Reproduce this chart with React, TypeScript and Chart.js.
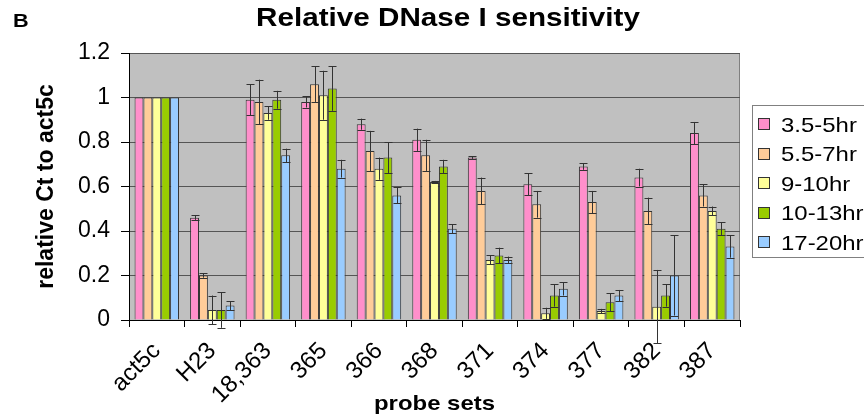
import React, { useEffect, useRef } from "react";
import { Chart, registerables } from "chart.js";

Chart.register(...registerables);

const categories = ["act5c", "H23", "18,363", "365", "366", "368", "371", "374", "377", "382", "387"];
const seriesLabels = ["3.5-5hr", "5.5-7hr", "9-10hr", "10-13hr", "17-20hr"];
const seriesColors = ["#FF8FCB", "#FFCC99", "#FFFF99", "#99CC00", "#99CCFF"];

const v35 = [1.0, 0.46, 0.99, 0.98, 0.88, 0.81, 0.73, 0.61, 0.69, 0.64, 0.84];
const v55 = [1.0, 0.2, 0.98, 1.06, 0.76, 0.74, 0.58, 0.52, 0.53, 0.49, 0.56];
const v910 = [1.0, 0.045, 0.93, 1.01, 0.68, 0.62, 0.27, 0.03, 0.04, 0.06, 0.49];
const v1013 = [1.0, 0.045, 0.99, 1.04, 0.73, 0.69, 0.29, 0.11, 0.08, 0.11, 0.41];
const v1720 = [1.0, 0.065, 0.74, 0.68, 0.56, 0.41, 0.27, 0.14, 0.11, 0.2, 0.33];

const e35 = [0, 0.01, 0.07, 0.025, 0.025, 0.05, 0.006, 0.05, 0.015, 0.04, 0.05];
const e55 = [0, 0.01, 0.1, 0.08, 0.09, 0.07, 0.06, 0.06, 0.05, 0.06, 0.05];
const e910 = [0, 0.065, 0.03, 0.11, 0.05, 0.005, 0.02, 0.025, 0.01, 0.165, 0.02];
const e1013 = [0, 0.08, 0.04, 0.1, 0.07, 0.03, 0.035, 0.05, 0.04, 0.05, 0.03];
const e1720 = [0, 0.02, 0.03, 0.04, 0.036, 0.02, 0.015, 0.03, 0.025, 0.18, 0.05];

const seriesValues = [v35, v55, v910, v1013, v1720];
const seriesErrors = [e35, e55, e910, e1013, e1720];

const titleText = "Relative DNase I sensitivity";
const panelLetter = "B";
const yTitle = "relative Ct to act5c";
const xTitle = "probe sets";

const FONT = "'Liberation Sans', Arial, sans-serif";

function stretchText(
  ctx: CanvasRenderingContext2D,
  text: string,
  x: number,
  y: number,
  font: string,
  sx: number,
  align: CanvasTextAlign
) {
  ctx.save();
  ctx.font = font;
  ctx.textAlign = align;
  ctx.textBaseline = "alphabetic";
  ctx.fillStyle = "#000";
  ctx.translate(x, y);
  ctx.scale(sx, 1);
  ctx.fillText(text, 0, 0);
  ctx.restore();
}

const decorPlugin = {
  id: "decor",
  beforeDraw(chart: any) {
    const { ctx, chartArea: a } = chart;
    ctx.save();
    ctx.fillStyle = "#fff";
    ctx.fillRect(0, 0, chart.width, chart.height);
    ctx.fillStyle = "#C0C0C0";
    ctx.fillRect(a.left, a.top, a.right - a.left, a.bottom - a.top);
    ctx.strokeStyle = "#808080";
    ctx.lineWidth = 1;
    ctx.strokeRect(a.left + 0.5, a.top + 0.5, a.right - a.left - 1, a.bottom - a.top);
    ctx.restore();
  },
  afterDatasetsDraw(chart: any) {
    const { ctx } = chart;
    const yScale = chart.scales.y;
    ctx.save();
    ctx.strokeStyle = "#333";
    ctx.lineWidth = 1;
    chart.data.datasets.forEach((ds: any, di: number) => {
      const meta = chart.getDatasetMeta(di);
      const errs = seriesErrors[di];
      meta.data.forEach((bar: any, i: number) => {
        const e = errs[i];
        if (!e) return;
        const v = ds.data[i];
        const x = Math.round(bar.x) + 0.5;
        const yt = yScale.getPixelForValue(v + e);
        const yb = yScale.getPixelForValue(v - e);
        ctx.beginPath();
        ctx.moveTo(x, yt);
        ctx.lineTo(x, yb);
        ctx.moveTo(x - 4, Math.round(yt) + 0.5);
        ctx.lineTo(x + 4, Math.round(yt) + 0.5);
        ctx.moveTo(x - 4, Math.round(yb) + 0.5);
        ctx.lineTo(x + 4, Math.round(yb) + 0.5);
        ctx.stroke();
      });
    });
    ctx.restore();
  },
  afterDraw(chart: any) {
    const { ctx, chartArea: a } = chart;
    stretchText(ctx, panelLetter, 13, 27, `bold 19px ${FONT}`, 1.14, "left");
    stretchText(ctx, titleText, 448, 26, `bold 26px ${FONT}`, 1.14, "center");
    stretchText(ctx, xTitle, (a.left + a.right) / 2, 410, `bold 21px ${FONT}`, 1.14, "center");
    ctx.save();
    ctx.translate(53, (a.top + a.bottom) / 2);
    ctx.rotate(-Math.PI / 2);
    ctx.font = `bold 23px ${FONT}`;
    ctx.textAlign = "center";
    ctx.textBaseline = "alphabetic";
    ctx.fillStyle = "#000";
    ctx.fillText(yTitle, 0, 0);
    ctx.restore();

    const bx = 752, by = 105, bw = 130, bh = 152;
    ctx.save();
    ctx.fillStyle = "#fff";
    ctx.fillRect(bx, by, bw, bh);
    ctx.strokeStyle = "#808080";
    ctx.lineWidth = 1;
    ctx.strokeRect(bx + 0.5, by + 0.5, bw, bh);
    ctx.restore();
    chart.data.datasets.forEach((ds: any, i: number) => {
      const cy = 124 + i * 29.5;
      ctx.save();
      ctx.fillStyle = ds.backgroundColor;
      ctx.fillRect(758, Math.round(cy - 6), 11, 11);
      ctx.strokeStyle = "#333";
      ctx.strokeRect(758.5, Math.round(cy - 6) + 0.5, 11, 11);
      ctx.restore();
      stretchText(ctx, ds.label, 781, cy + 7.5, `21px ${FONT}`, 1.14, "left");
    });
  },
};

export default function App() {
  const ref = useRef<HTMLCanvasElement | null>(null);
  useEffect(() => {
    if (!ref.current) return;
    const chart = new Chart(ref.current, {
      type: "bar",
      data: {
        labels: categories,
        datasets: seriesLabels.map((label, i) => ({
          label,
          data: seriesValues[i],
          backgroundColor: seriesColors[i],
          borderColor: "#333",
          borderWidth: 1,
          categoryPercentage: 0.8,
          barPercentage: 1.0,
        })),
      },
      options: {
        responsive: false,
        animation: false,
        layout: { padding: { top: 53, right: 124, left: 0, bottom: 0 } },
        plugins: { legend: { display: false }, title: { display: false }, tooltip: { enabled: false } },
        scales: {
          x: {
            afterFit: (s: any) => { s.height = 100; },
            grid: { display: true, drawOnChartArea: false, drawTicks: true, tickLength: 7, tickColor: "#000", offset: true },
            border: { display: true, color: "#000", width: 1 },
            ticks: {
              minRotation: 45,
              maxRotation: 45,
              color: "#000",
              padding: 10,
              font: { family: FONT, size: 24 },
              autoSkip: false,
            },
          },
          y: {
            min: 0,
            max: 1.2,
            afterFit: (s: any) => { s.width = 129; },
            grid: { color: "#555", tickColor: "#000", tickLength: 8, drawTicks: true },
            border: { display: true, color: "#000", width: 1 },
            ticks: {
              stepSize: 0.2,
              color: "#000",
              padding: 11,
              font: { family: FONT, size: 23 },
              callback: (v: any) => String(Number(Number(v).toFixed(1))),
            },
          },
        },
      },
      plugins: [decorPlugin],
    });
    return () => chart.destroy();
  }, []);
  return (
    <div style={{ position: "absolute", left: 0, top: 0, width: 864, height: 420 }}>
      <canvas ref={ref} width={864} height={420} />
    </div>
  );
}
